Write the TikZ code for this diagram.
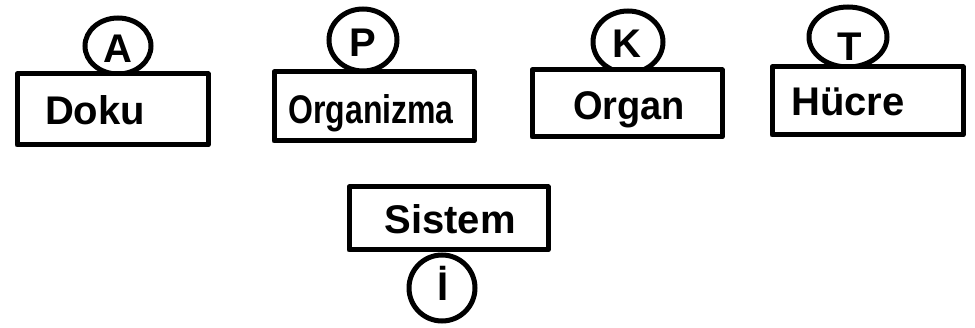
\documentclass[tikz,border=0pt]{standalone}
\usepackage{fontspec}
\setmainfont{Liberation Sans}
\usetikzlibrary{shapes.geometric}
\begin{document}
\begin{tikzpicture}[x=1pt,y=-1pt,
  frame/.style={draw, line width=5pt, line join=round, fill=white, rectangle, inner sep=0pt},
  ring/.style={draw, line width=5pt, fill=white, ellipse, inner sep=0pt},
  word/.style={font=\fontsize{40}{40}\selectfont\bfseries, inner sep=0pt, anchor=base}]
\useasboundingbox[fill=white] (0,0) rectangle (975,328);
% circles (drawn first, boxes cover their lower part)
\node[ring, minimum width=66pt, minimum height=56pt] (cA) at (118,46) {};
\node[ring, minimum width=68pt, minimum height=62pt] (cP) at (363,40) {};
\node[ring, minimum width=70pt, minimum height=62pt] (cK) at (628,42) {};
\node[ring, minimum width=78pt, minimum height=60pt] (cT) at (848,37) {};
\node[ring, minimum width=66pt, minimum height=66pt] (cI) at (442,288) {};
% boxes
\node[frame, minimum width=191pt, minimum height=71pt] (bDoku) at (112.5,109.5) {};
\node[frame, minimum width=200pt, minimum height=69pt] (bOrganizma) at (374,106.5) {};
\node[frame, minimum width=190pt, minimum height=67pt] (bOrgan) at (627,103.5) {};
\node[frame, minimum width=191pt, minimum height=68pt] (bHucre) at (867.5,101) {};
\node[frame, minimum width=199pt, minimum height=63pt] (bSistem) at (448.5,218.5) {};
% letters
\node[word] (lA) at (118,63) {A};
\node[word] (lP) at (363,57) {P};
\node[word] (lK) at (627,58) {K};
\node[word] (lT) at (850,61) {T};
\node[word] (lI) at (443,301) {İ};
% words
\node[word] (tDoku) at (95,125) {Doku};
\node[word] (tOrganizma) at (371,124) {\scalebox{0.8}[1]{Organizma}};
\node[word] (tOrgan) at (629,120) {\scalebox{0.95}[1]{Organ}};
\node[word] (tHucre) at (848,116) {Hücre};
\node[word] (tSistem) at (450,234) {Sistem};
\end{tikzpicture}
\end{document}
